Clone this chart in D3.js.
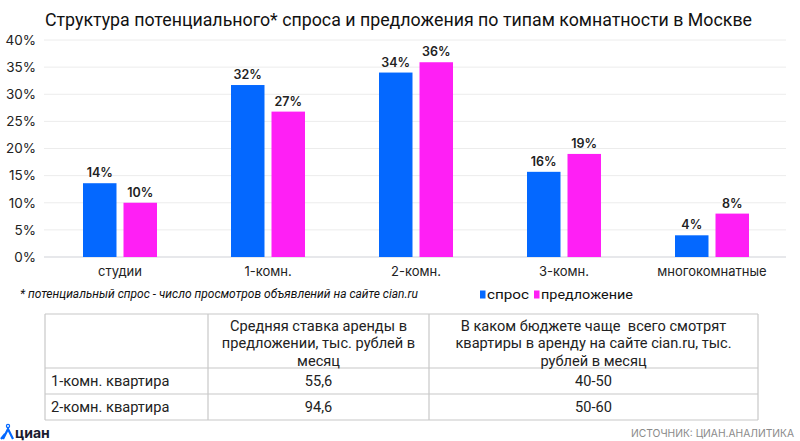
<!DOCTYPE html>
<html><head><meta charset="utf-8">
<script src="https://cdn.jsdelivr.net/npm/d3@7"></script>
<style>body{margin:0;background:#fff}svg{display:block}text{white-space:pre}</style>
</head><body>
<svg id="c" width="800" height="441"></svg>
<script>
const categories = ["студии","1-комн.","2-комн.","3-комн.","многокомнатные"];
const seriesNames = ["спрос","предложение"];
const demand = [13.6, 31.7, 34.0, 15.7, 4.0];
const supply = [10.0, 26.8, 35.9, 19.0, 8.0];
const demandLabels = ["14%","32%","34%","16%","4%"];
const supplyLabels = ["10%","27%","36%","19%","8%"];
const yTicks = [0,5,10,15,20,25,30,35,40];
const colors = ["#0468ff","#ff1ff5"];
const title = "Структура потенциального* спроса и предложения по типам комнатности в Москве";
const footnote = "* потенциальный спрос - число просмотров объявлений на сайте cian.ru";
const tableHeader = ["", "Средняя ставка аренды в|предложении, тыс. рублей в|месяц", "В каком бюджете чаще  всего смотрят|квартиры в аренду на сайте cian.ru, тыс.|рублей в месяц"];
const tableRows = [["1-комн. квартира","55,6","40-50"],["2-комн. квартира","94,6","50-60"]];
const source = "ИСТОЧНИК: ЦИАН.АНАЛИТИКА";

const svg = d3.select("#c");
const font = "Inter, 'Noto Sans', sans-serif";
const fontR = "Roboto, 'Noto Sans', sans-serif";

svg.append("text").attr("x",45).attr("y",26).attr("font-family",fontR).attr("font-size",18.5)
  .attr("fill","#111").attr("textLength",707).attr("lengthAdjust","spacingAndGlyphs").text(title);

const x0 = d3.scaleBand().domain(categories).range([46,786]);
const x1 = d3.scaleBand().domain(seriesNames).range([-37,37]).paddingInner(0.173);
const y = d3.scaleLinear().domain([0,40]).range([257,40]);

const g = svg.append("g");
g.selectAll(".grid").data(yTicks.slice(1)).join("line")
  .attr("x1",44).attr("x2",786).attr("y1",d=>y(d)).attr("y2",d=>y(d))
  .attr("stroke","#ececec").attr("stroke-width",1);
g.append("line").attr("x1",44).attr("x2",786).attr("y1",y(0)).attr("y2",y(0)).attr("stroke","#cfd2d8").attr("stroke-width",1.2);

const yAxis = d3.axisLeft(y).tickValues(yTicks).tickFormat(d=>d+"%").tickSize(0).tickPadding(0);
const ya = svg.append("g").attr("transform","translate(36,0)").call(yAxis);
ya.select(".domain").remove();
ya.selectAll("text").attr("font-family",font).attr("font-size",13.5).attr("fill","#222");

const xAxis = d3.axisBottom(x0).tickSize(0).tickPadding(0);
const xa = svg.append("g").attr("transform","translate(0,266)").call(xAxis);
xa.select(".domain").remove();
xa.selectAll("text").attr("font-family",font).attr("font-size",13).attr("fill","#222").attr("dy","0.75em");

const data = categories.map((c,i)=>({c, vals:[{s:seriesNames[0],v:demand[i],l:demandLabels[i]},{s:seriesNames[1],v:supply[i],l:supplyLabels[i]}]}));
const grp = svg.selectAll(".grp").data(data).join("g").attr("transform",d=>`translate(${x0(d.c)+x0.bandwidth()/2},0)`);
grp.selectAll("rect").data(d=>d.vals).join("rect")
  .attr("x",d=>x1(d.s)).attr("width",x1.bandwidth())
  .attr("y",d=>y(d.v)).attr("height",d=>y(0)-y(d.v))
  .attr("fill",(d,i)=>colors[i]);
grp.selectAll(".lbl").data(d=>d.vals).join("text")
  .attr("x",d=>x1(d.s)+x1.bandwidth()/2).attr("y",d=>y(d.v)-6)
  .attr("text-anchor","middle").attr("font-family",font).attr("font-size",12.5).attr("font-weight",600)
  .attr("fill","#222").text(d=>d.l);

svg.append("text").attr("x",20).attr("y",298).attr("font-family",fontR).attr("font-style","italic")
  .attr("font-size",12).attr("fill","#111").attr("textLength",398).attr("lengthAdjust","spacingAndGlyphs").text(footnote);

const lg = svg.append("g");
const legX = [480, 534];
const legW = [42, 92];
seriesNames.forEach((s,i)=>{
  lg.append("rect").attr("x",legX[i]).attr("y",290.5).attr("width",5.5).attr("height",8).attr("fill",colors[i]);
  lg.append("text").attr("x",legX[i]+7).attr("y",299).attr("font-family",fontR).attr("font-size",13.5)
    .attr("fill","#111").attr("textLength",legW[i]).attr("lengthAdjust","spacingAndGlyphs").text(s);
});

// table
const colX = [45, 208, 429, 758];
const rowY = [314, 368, 394, 420];
const tg = svg.append("g");
tg.selectAll(".hl").data(rowY).join("line").attr("x1",colX[0]).attr("x2",colX[3]).attr("y1",d=>d).attr("y2",d=>d).attr("stroke","#c8c8c8").attr("stroke-width",1.2);
tg.selectAll(".vl").data(colX).join("line").attr("y1",rowY[0]).attr("y2",rowY[3]).attr("x1",d=>d).attr("x2",d=>d).attr("stroke","#c8c8c8").attr("stroke-width",1.2);
const tfs = 14.6;
tableHeader.forEach((h,ci)=>{
  if(!h) return;
  const lines = h.split("|");
  const cx = (colX[ci]+colX[ci+1])/2;
  lines.forEach((ln,li)=>{
    tg.append("text").attr("x",cx).attr("y",331+li*17.3).attr("text-anchor","middle")
      .attr("font-family",fontR).attr("font-size",tfs).attr("fill","#222").text(ln);
  });
});
tableRows.forEach((r,ri)=>{
  const yy = (rowY[ri+1]+rowY[ri+2])/2 + 5.2;
  tg.append("text").attr("x",51).attr("y",yy).attr("font-family",fontR).attr("font-size",tfs).attr("fill","#222").text(r[0]);
  [1,2].forEach(ci=>{
    tg.append("text").attr("x",(colX[ci]+colX[ci+1])/2).attr("y",yy).attr("text-anchor","middle")
      .attr("font-family",fontR).attr("font-size",tfs).attr("fill","#222").text(r[ci]);
  });
});

// logo
const lgo = svg.append("g");
lgo.append("circle").attr("cx",8).attr("cy",426).attr("r",1.6).attr("fill","none").attr("stroke","#0468ff").attr("stroke-width",1.2);
lgo.append("path").attr("d","M3,439 L8,429 L13,439 M5,434 L1,439").attr("stroke","#0468ff").attr("stroke-width",2.2).attr("fill","none");
lgo.append("text").attr("x",15).attr("y",438).attr("font-family",font).attr("font-weight",700).attr("font-size",14).attr("fill","#1a1a2e").text("циан");

svg.append("text").attr("x",794).attr("y",436.5).attr("text-anchor","end").attr("font-family",font)
  .attr("font-size",10.5).attr("fill","#8a8a8a").attr("textLength",163).attr("lengthAdjust","spacingAndGlyphs").text(source);
</script>
</body></html>
